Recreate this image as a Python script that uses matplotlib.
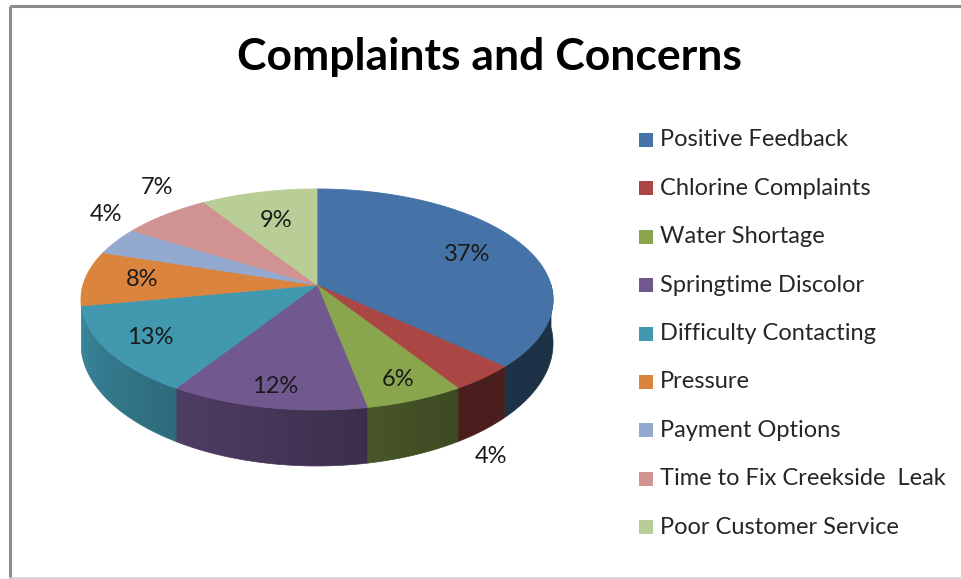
"""
Complaints and Concerns - Excel style 3D pie, drawn by hand with patches.
Writes out.png
"""
import numpy as np
import matplotlib
matplotlib.use("Agg")
import matplotlib.pyplot as plt
from matplotlib.patches import Polygon, Rectangle
from matplotlib.colors import to_rgb

# ---- data ----
categories = ["Positive Feedback", "Chlorine Complaints", "Water Shortage",
              "Springtime Discolor", "Difficulty Contacting", "Pressure",
              "Payment Options", "Time to Fix Creekside  Leak", "Poor Customer Service"]
shares = [37, 4, 6, 12, 13, 8, 4, 7, 9]
colors = ["#4572A7", "#AA4643", "#89A54E", "#71588F", "#4198AF",
          "#DB843D", "#93A9CF", "#D19392", "#B9CD96"]
label_outside = [False, True, False, False, False, False, True, True, False]

W, H = 961, 579
FONT = ["Lato", "DejaVu Sans"]

# pie geometry (pixels): apex, half axes, perspective, wall depth
CX, CY = 317, 285
A, B = 234, 108.6
K = 0.131
H0 = 42.3


def project(r, phi, z=0.0):
    """phi in radians, clockwise from 12 o'clock; z=1 is the bottom of the wall."""
    x = r * np.sin(phi)
    y = r * np.cos(phi)
    s = 1.0 / (1.0 + K * y)
    return CX + A * x * s, CY - B * y * s + z * H0 * s ** 2


def wall_factor(phi):
    # side walls get darker towards the right-hand side
    deg = np.degrees(phi) % 360
    return np.clip(0.43 + (deg - 145) * 0.0041, 0.43, 0.9)


fig = plt.figure(figsize=(W / 100, H / 100), dpi=100)
ax = fig.add_axes([0, 0, 1, 1])
ax.axis("off")

# chart frame
ax.plot([9.5, 9.5], [6, H], color="#8c8c8c", lw=2.2, solid_capstyle="butt")
ax.plot([9.5, W], [6, 6], color="#8c8c8c", lw=2.2, solid_capstyle="butt")
ax.plot([9.5, W], [577.5, 577.5], color="#d0d0d0", lw=1.2)

total = float(sum(shares))
bounds = np.concatenate([[0], np.cumsum(shares)]) / total * 2 * np.pi

# screen x -> angle on the front arc (for the wall gradient)
front = np.linspace(np.pi / 2, 3 * np.pi / 2, 721)
front_x = np.array([project(1, p)[0] for p in front])

# side walls with a horizontal gradient, clipped to each slice's wall
WALL_LO, WALL_HI = np.pi / 2, 3 * np.pi / 2 - 0.19
for i, col in enumerate(colors):
    lo, hi = max(bounds[i], WALL_LO), min(bounds[i + 1], WALL_HI)
    if hi <= lo:
        continue
    ph = np.linspace(lo, hi, 120)
    top = [project(1, p) for p in ph]
    bot = [project(1, p, 1) for p in ph[::-1]]
    pts = np.array(top + bot)
    x0, x1 = pts[:, 0].min() - 1, pts[:, 0].max() + 1
    y0, y1 = pts[:, 1].min() - 1, pts[:, 1].max() + 1
    xs = np.linspace(x0, x1, 200)
    phis = np.interp(xs, front_x[::-1], front[::-1])
    base = np.array(to_rgb(col))
    img = base[None, None, :] * wall_factor(phis)[None, :, None]
    clip = Polygon(pts, closed=True, facecolor="none", edgecolor="none")
    ax.add_patch(clip)
    im = ax.imshow(img, extent=(x0, x1, y1, y0), origin="upper", aspect="auto",
                   interpolation="bilinear", zorder=1)
    im.set_clip_path(clip)
    edge = tuple(base * wall_factor(ph).mean())
    ax.add_patch(Polygon(pts, closed=True, facecolor="none", edgecolor=edge,
                         lw=0.5, zorder=1.1))

# top faces
for i, col in enumerate(colors):
    ph = np.linspace(bounds[i], bounds[i + 1], max(3, int(shares[i] * 4)))
    pts = [(CX, CY)] + [project(1, p) for p in ph]
    ax.add_patch(Polygon(pts, closed=True, facecolor=col, edgecolor=col,
                         lw=0.6, zorder=2))

# data labels
for i, v in enumerate(shares):
    mid = (bounds[i] + bounds[i + 1]) / 2
    if label_outside[i]:
        if np.cos(mid) < 0:
            x, y = project(1, mid, 1)
            x, y = x + 12 * np.sin(mid), y + 26
        else:
            x, y = project(1, mid)
            x, y = x + 12 * np.sin(mid), y - 27
    else:
        x, y = project(0.76 - 0.09 * np.cos(mid), mid)
    ax.text(x, y, f"{v}%", ha="center", va="center", fontsize=17,
            color="#1a1a1a", family=FONT, zorder=3)

# title
ax.text(489, 57, "Complaints and Concerns", ha="center", va="center",
        fontsize=32, fontweight="bold", color="black", family=FONT)

# legend
for i, (name, col) in enumerate(zip(categories, colors)):
    y = 140 + i * 48.4
    ax.add_patch(Rectangle((639, y - 7), 14, 14, facecolor=col, edgecolor="none"))
    ax.text(660, y, name, ha="left", va="center", fontsize=17,
            color="#262626", family=FONT)

ax.set_xlim(0, W)
ax.set_ylim(H, 0)
fig.savefig("out.png", dpi=100, facecolor="white")
